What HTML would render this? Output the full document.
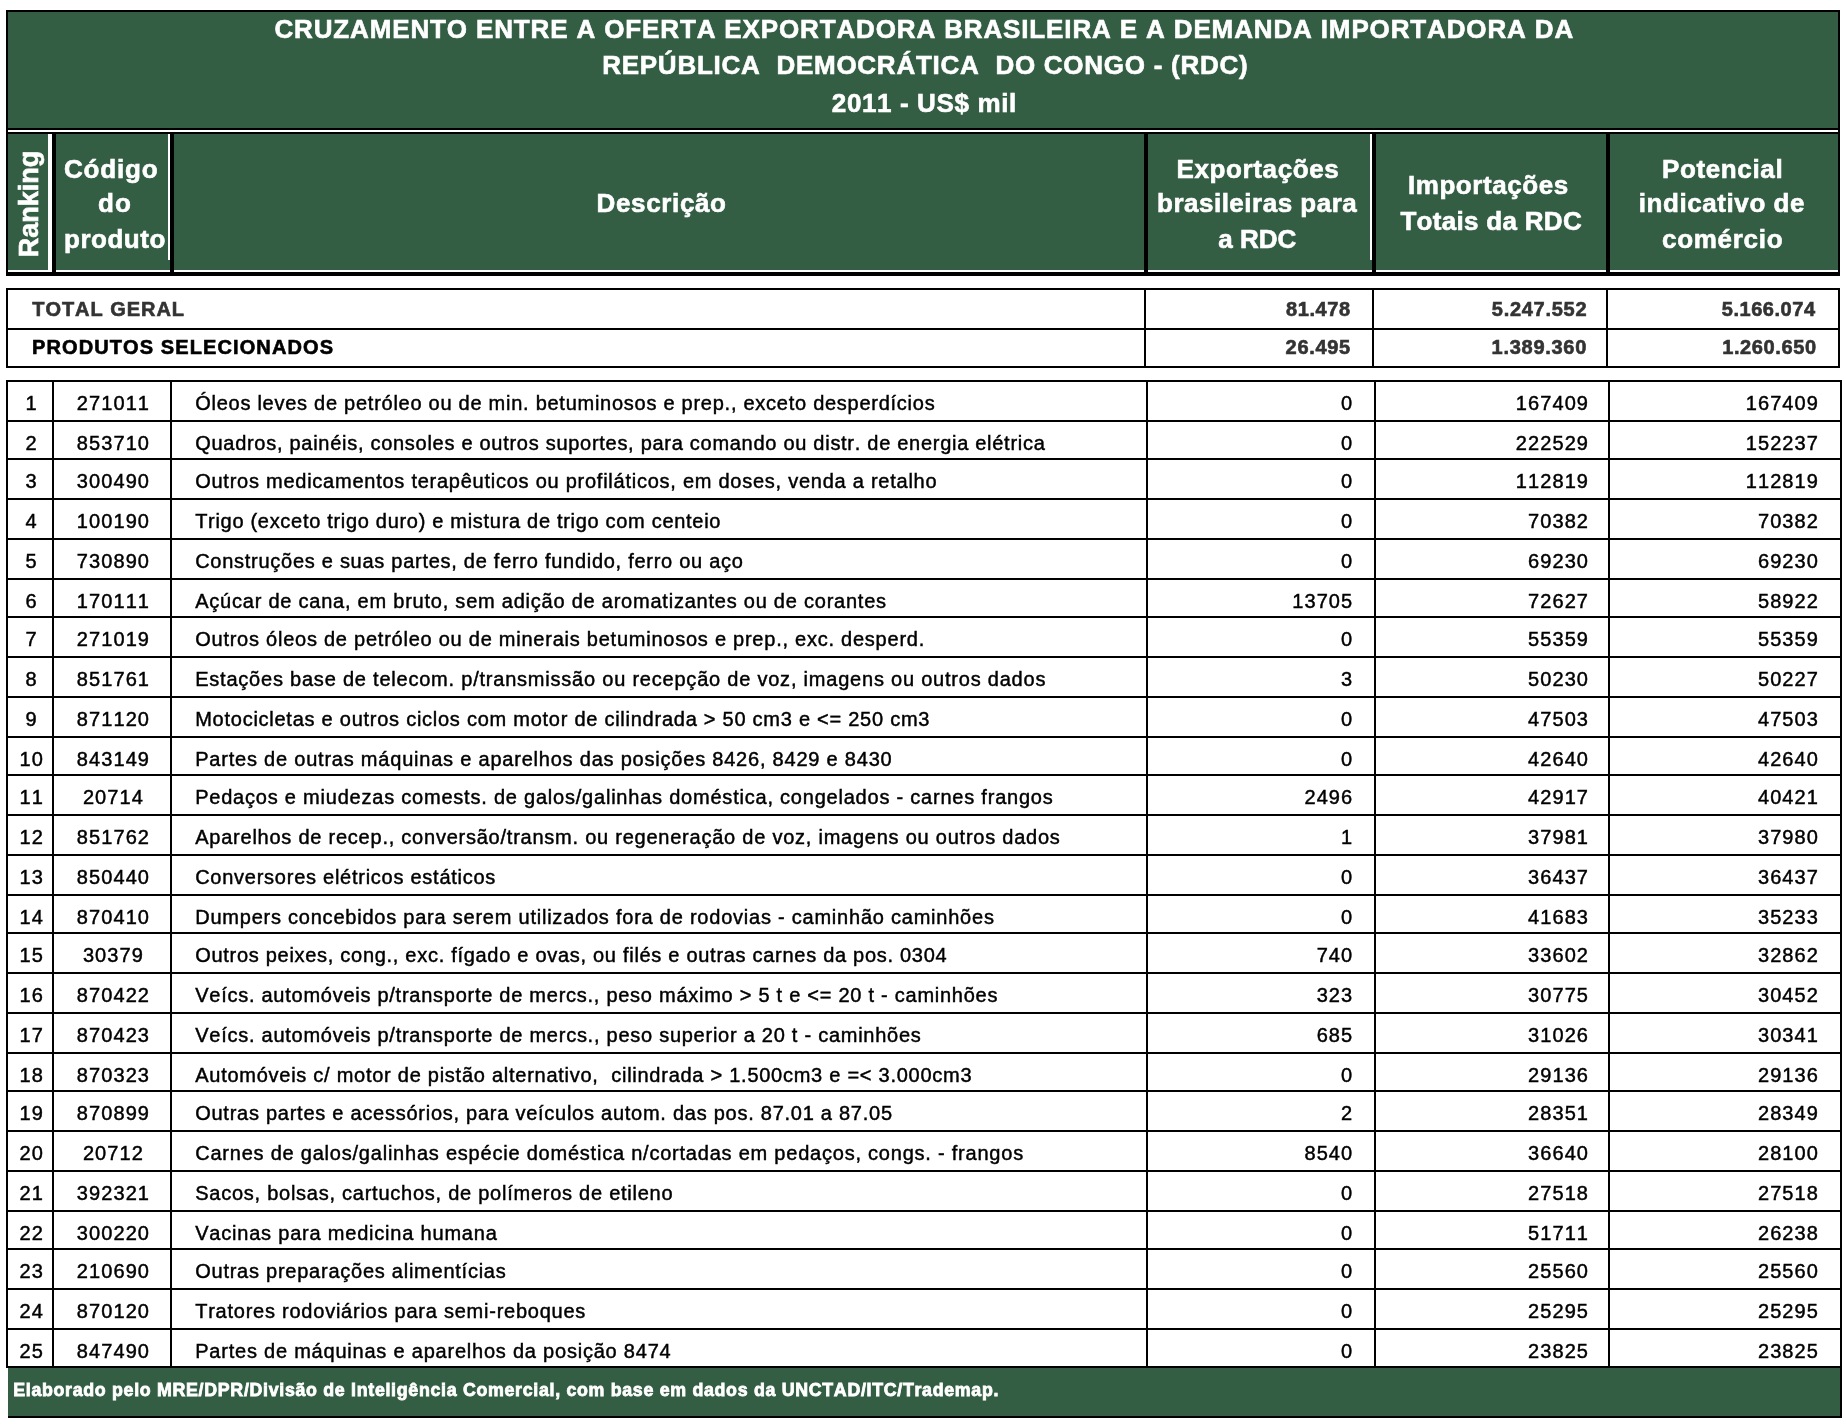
<!DOCTYPE html>
<html><head><meta charset="utf-8"><title>Cruzamento Brasil - RDC</title>
<style>
html,body{margin:0;padding:0;background:#fff;}
body{width:1846px;height:1424px;position:relative;overflow:hidden;font-family:"Liberation Sans",sans-serif;}
#page{position:absolute;left:0;top:0;width:1846px;height:1424px;will-change:transform;}
.r{position:absolute;}
.t{position:absolute;white-space:pre;font-kerning:none;-webkit-text-stroke:0.45px currentColor;}
.b{font-weight:bold;-webkit-text-stroke:0.62px currentColor;}
</style></head><body><div id="page">
<div class="r" style="left:6px;top:10px;width:1834px;height:266px;background:#000"></div>
<div class="r" style="left:8px;top:12px;width:1830px;height:116px;background:#345E43"></div>
<div class="r" style="left:8px;top:130px;width:1830px;height:2px;background:#fff"></div>
<div class="r" style="left:8px;top:134px;width:40px;height:136px;background:#345E43"></div>
<div class="r" style="left:56px;top:134px;width:112px;height:136px;background:#345E43"></div>
<div class="r" style="left:174px;top:134px;width:970px;height:136px;background:#345E43"></div>
<div class="r" style="left:1148px;top:134px;width:222px;height:136px;background:#345E43"></div>
<div class="r" style="left:1376px;top:134px;width:230px;height:136px;background:#345E43"></div>
<div class="r" style="left:1610px;top:134px;width:228px;height:136px;background:#345E43"></div>
<div class="r" style="left:8px;top:270px;width:44px;height:2px;background:#fff"></div>
<div class="r" style="left:56px;top:270px;width:114px;height:2px;background:#fff"></div>
<div class="r" style="left:174px;top:270px;width:970px;height:2px;background:#fff"></div>
<div class="r" style="left:1148px;top:270px;width:224px;height:2px;background:#fff"></div>
<div class="r" style="left:1376px;top:270px;width:230px;height:2px;background:#fff"></div>
<div class="r" style="left:1610px;top:270px;width:228px;height:2px;background:#fff"></div>
<div class="r" style="left:48px;top:134px;width:4px;height:138px;background:#fff"></div>
<div class="r" style="left:168px;top:134px;width:2px;height:126px;background:#fff"></div>
<div class="r" style="left:168px;top:260px;width:2px;height:10px;background:#345E43"></div>
<div class="r" style="left:1370px;top:134px;width:2px;height:126px;background:#fff"></div>
<div class="r" style="left:1370px;top:260px;width:2px;height:10px;background:#345E43"></div>
<div class="t b" style="left:274.41px;top:4.20px;height:50px;line-height:50px;font-size:26px;letter-spacing:0.862px;color:#fff;">CRUZAMENTO ENTRE A OFERTA EXPORTADORA BRASILEIRA E A DEMANDA IMPORTADORA DA</div>
<div class="t b" style="left:602.21px;top:40.20px;height:50px;line-height:50px;font-size:26px;letter-spacing:0.736px;color:#fff;">REPÚBLICA  DEMOCRÁTICA  DO CONGO - (RDC)</div>
<div class="t b" style="left:831.81px;top:78.20px;height:50px;line-height:50px;font-size:26px;letter-spacing:0.622px;color:#fff;">2011 - US$ mil</div>
<div class="t b" style="left:64.01px;top:144.20px;height:50px;line-height:50px;font-size:26px;letter-spacing:0.807px;color:#fff;">Código</div>
<div class="t b" style="left:98.01px;top:178.20px;height:50px;line-height:50px;font-size:26px;letter-spacing:1.198px;color:#fff;">do</div>
<div class="t b" style="left:64.11px;top:214.20px;height:50px;line-height:50px;font-size:26px;letter-spacing:0.496px;color:#fff;">produto</div>
<div class="t b" style="left:596.61px;top:178.20px;height:50px;line-height:50px;font-size:26px;letter-spacing:0.633px;color:#fff;">Descrição</div>
<div class="t b" style="left:1176.51px;top:144.20px;height:50px;line-height:50px;font-size:26px;letter-spacing:0.618px;color:#fff;">Exportações</div>
<div class="t b" style="left:1157.01px;top:178.20px;height:50px;line-height:50px;font-size:26px;letter-spacing:0.501px;color:#fff;">brasileiras para</div>
<div class="t b" style="left:1218.31px;top:214.20px;height:50px;line-height:50px;font-size:26px;letter-spacing:-0.014px;color:#fff;">a RDC</div>
<div class="t b" style="left:1407.91px;top:160.20px;height:50px;line-height:50px;font-size:26px;letter-spacing:0.564px;color:#fff;">Importações</div>
<div class="t b" style="left:1400.41px;top:196.20px;height:50px;line-height:50px;font-size:26px;letter-spacing:0.298px;color:#fff;">Totais da RDC</div>
<div class="t b" style="left:1662.01px;top:144.20px;height:50px;line-height:50px;font-size:26px;letter-spacing:0.627px;color:#fff;">Potencial</div>
<div class="t b" style="left:1638.81px;top:178.20px;height:50px;line-height:50px;font-size:26px;letter-spacing:0.568px;color:#fff;">indicativo de</div>
<div class="t b" style="left:1662.01px;top:214.20px;height:50px;line-height:50px;font-size:26px;letter-spacing:0.708px;color:#fff;">comércio</div>
<div class="t b" id="rank" style="left:0;top:0;width:200px;height:40px;line-height:40px;font-size:27.5px;color:#fff;transform-origin:0 0;transform:translate(9.2px,257.3px) rotate(-90deg) scaleX(0.982);">Ranking</div>
<div class="r" style="left:6px;top:288px;width:1834px;height:80px;background:#000"></div>
<div class="r" style="left:8px;top:290px;width:1136px;height:38px;background:#fff"></div>
<div class="r" style="left:8px;top:330px;width:1136px;height:36px;background:#fff"></div>
<div class="r" style="left:1146px;top:290px;width:226px;height:38px;background:#fff"></div>
<div class="r" style="left:1146px;top:330px;width:226px;height:36px;background:#fff"></div>
<div class="r" style="left:1374px;top:290px;width:232px;height:38px;background:#fff"></div>
<div class="r" style="left:1374px;top:330px;width:232px;height:36px;background:#fff"></div>
<div class="r" style="left:1608px;top:290px;width:230px;height:38px;background:#fff"></div>
<div class="r" style="left:1608px;top:330px;width:230px;height:36px;background:#fff"></div>
<div class="t b" style="left:32.21px;top:288.20px;height:42px;line-height:42px;font-size:20px;letter-spacing:0.959px;color:#333;">TOTAL GERAL</div>
<div class="t b" style="left:32.01px;top:326.20px;height:42px;line-height:42px;font-size:20px;letter-spacing:1.105px;color:#000;">PRODUTOS SELECIONADOS</div>
<div class="t b" style="left:1286.11px;top:288.20px;height:42px;line-height:42px;font-size:20px;letter-spacing:0.566px;color:#333;">81.478</div>
<div class="t b" style="left:1285.61px;top:326.20px;height:42px;line-height:42px;font-size:20px;letter-spacing:0.666px;color:#333;">26.495</div>
<div class="t b" style="left:1491.81px;top:288.20px;height:42px;line-height:42px;font-size:20px;letter-spacing:0.716px;color:#333;">5.247.552</div>
<div class="t b" style="left:1491.61px;top:326.20px;height:42px;line-height:42px;font-size:20px;letter-spacing:0.716px;color:#333;">1.389.360</div>
<div class="t b" style="left:1721.81px;top:288.20px;height:42px;line-height:42px;font-size:20px;letter-spacing:0.529px;color:#333;">5.166.074</div>
<div class="t b" style="left:1722.21px;top:326.20px;height:42px;line-height:42px;font-size:20px;letter-spacing:0.604px;color:#333;">1.260.650</div>
<div class="r" style="left:6px;top:380px;width:1836px;height:988px;background:#000"></div>
<div class="r" style="left:8px;top:382px;width:44px;height:38px;background:#fff"></div>
<div class="r" style="left:54px;top:382px;width:116px;height:38px;background:#fff"></div>
<div class="r" style="left:172px;top:382px;width:974px;height:38px;background:#fff"></div>
<div class="r" style="left:1148px;top:382px;width:226px;height:38px;background:#fff"></div>
<div class="r" style="left:1376px;top:382px;width:232px;height:38px;background:#fff"></div>
<div class="r" style="left:1610px;top:382px;width:230px;height:38px;background:#fff"></div>
<div class="t" style="left:25.54px;top:382.20px;height:42px;line-height:42px;font-size:20px;letter-spacing:1.080px;color:#000;">1</div>
<div class="t" style="left:76.83px;top:382.20px;height:42px;line-height:42px;font-size:20px;letter-spacing:1.080px;color:#000;">271011</div>
<div class="t" style="left:195.20px;top:382.20px;height:42px;line-height:42px;font-size:20px;letter-spacing:0.738px;color:#000;">Óleos leves de petróleo ou de min. betuminosos e prep., exceto desperdícios</div>
<div class="t" style="left:1341.08px;top:382.20px;height:42px;line-height:42px;font-size:20px;letter-spacing:1.080px;color:#000;">0</div>
<div class="t" style="left:1515.86px;top:382.20px;height:42px;line-height:42px;font-size:20px;letter-spacing:1.080px;color:#000;">167409</div>
<div class="t" style="left:1745.76px;top:382.20px;height:42px;line-height:42px;font-size:20px;letter-spacing:1.080px;color:#000;">167409</div>
<div class="r" style="left:8px;top:422px;width:44px;height:36px;background:#fff"></div>
<div class="r" style="left:54px;top:422px;width:116px;height:36px;background:#fff"></div>
<div class="r" style="left:172px;top:422px;width:974px;height:36px;background:#fff"></div>
<div class="r" style="left:1148px;top:422px;width:226px;height:36px;background:#fff"></div>
<div class="r" style="left:1376px;top:422px;width:232px;height:36px;background:#fff"></div>
<div class="r" style="left:1610px;top:422px;width:230px;height:36px;background:#fff"></div>
<div class="t" style="left:25.54px;top:422.20px;height:42px;line-height:42px;font-size:20px;letter-spacing:1.080px;color:#000;">2</div>
<div class="t" style="left:76.83px;top:422.20px;height:42px;line-height:42px;font-size:20px;letter-spacing:1.080px;color:#000;">853710</div>
<div class="t" style="left:195.20px;top:422.20px;height:42px;line-height:42px;font-size:20px;letter-spacing:0.718px;color:#000;">Quadros, painéis, consoles e outros suportes, para comando ou distr. de energia elétrica</div>
<div class="t" style="left:1341.08px;top:422.20px;height:42px;line-height:42px;font-size:20px;letter-spacing:1.080px;color:#000;">0</div>
<div class="t" style="left:1515.86px;top:422.20px;height:42px;line-height:42px;font-size:20px;letter-spacing:1.080px;color:#000;">222529</div>
<div class="t" style="left:1745.76px;top:422.20px;height:42px;line-height:42px;font-size:20px;letter-spacing:1.080px;color:#000;">152237</div>
<div class="r" style="left:8px;top:460px;width:44px;height:38px;background:#fff"></div>
<div class="r" style="left:54px;top:460px;width:116px;height:38px;background:#fff"></div>
<div class="r" style="left:172px;top:460px;width:974px;height:38px;background:#fff"></div>
<div class="r" style="left:1148px;top:460px;width:226px;height:38px;background:#fff"></div>
<div class="r" style="left:1376px;top:460px;width:232px;height:38px;background:#fff"></div>
<div class="r" style="left:1610px;top:460px;width:230px;height:38px;background:#fff"></div>
<div class="t" style="left:25.54px;top:460.20px;height:42px;line-height:42px;font-size:20px;letter-spacing:1.080px;color:#000;">3</div>
<div class="t" style="left:76.83px;top:460.20px;height:42px;line-height:42px;font-size:20px;letter-spacing:1.080px;color:#000;">300490</div>
<div class="t" style="left:195.20px;top:460.20px;height:42px;line-height:42px;font-size:20px;letter-spacing:0.750px;color:#000;">Outros medicamentos terapêuticos ou profiláticos, em doses, venda a retalho</div>
<div class="t" style="left:1341.08px;top:460.20px;height:42px;line-height:42px;font-size:20px;letter-spacing:1.080px;color:#000;">0</div>
<div class="t" style="left:1515.86px;top:460.20px;height:42px;line-height:42px;font-size:20px;letter-spacing:1.080px;color:#000;">112819</div>
<div class="t" style="left:1745.76px;top:460.20px;height:42px;line-height:42px;font-size:20px;letter-spacing:1.080px;color:#000;">112819</div>
<div class="r" style="left:8px;top:500px;width:44px;height:38px;background:#fff"></div>
<div class="r" style="left:54px;top:500px;width:116px;height:38px;background:#fff"></div>
<div class="r" style="left:172px;top:500px;width:974px;height:38px;background:#fff"></div>
<div class="r" style="left:1148px;top:500px;width:226px;height:38px;background:#fff"></div>
<div class="r" style="left:1376px;top:500px;width:232px;height:38px;background:#fff"></div>
<div class="r" style="left:1610px;top:500px;width:230px;height:38px;background:#fff"></div>
<div class="t" style="left:25.54px;top:500.20px;height:42px;line-height:42px;font-size:20px;letter-spacing:1.080px;color:#000;">4</div>
<div class="t" style="left:76.83px;top:500.20px;height:42px;line-height:42px;font-size:20px;letter-spacing:1.080px;color:#000;">100190</div>
<div class="t" style="left:195.20px;top:500.20px;height:42px;line-height:42px;font-size:20px;letter-spacing:0.697px;color:#000;">Trigo (exceto trigo duro) e mistura de trigo com centeio</div>
<div class="t" style="left:1341.08px;top:500.20px;height:42px;line-height:42px;font-size:20px;letter-spacing:1.080px;color:#000;">0</div>
<div class="t" style="left:1528.06px;top:500.20px;height:42px;line-height:42px;font-size:20px;letter-spacing:1.080px;color:#000;">70382</div>
<div class="t" style="left:1757.96px;top:500.20px;height:42px;line-height:42px;font-size:20px;letter-spacing:1.080px;color:#000;">70382</div>
<div class="r" style="left:8px;top:540px;width:44px;height:38px;background:#fff"></div>
<div class="r" style="left:54px;top:540px;width:116px;height:38px;background:#fff"></div>
<div class="r" style="left:172px;top:540px;width:974px;height:38px;background:#fff"></div>
<div class="r" style="left:1148px;top:540px;width:226px;height:38px;background:#fff"></div>
<div class="r" style="left:1376px;top:540px;width:232px;height:38px;background:#fff"></div>
<div class="r" style="left:1610px;top:540px;width:230px;height:38px;background:#fff"></div>
<div class="t" style="left:25.54px;top:540.20px;height:42px;line-height:42px;font-size:20px;letter-spacing:1.080px;color:#000;">5</div>
<div class="t" style="left:76.83px;top:540.20px;height:42px;line-height:42px;font-size:20px;letter-spacing:1.080px;color:#000;">730890</div>
<div class="t" style="left:195.20px;top:540.20px;height:42px;line-height:42px;font-size:20px;letter-spacing:0.728px;color:#000;">Construções e suas partes, de ferro fundido, ferro ou aço</div>
<div class="t" style="left:1341.08px;top:540.20px;height:42px;line-height:42px;font-size:20px;letter-spacing:1.080px;color:#000;">0</div>
<div class="t" style="left:1528.06px;top:540.20px;height:42px;line-height:42px;font-size:20px;letter-spacing:1.080px;color:#000;">69230</div>
<div class="t" style="left:1757.96px;top:540.20px;height:42px;line-height:42px;font-size:20px;letter-spacing:1.080px;color:#000;">69230</div>
<div class="r" style="left:8px;top:580px;width:44px;height:36px;background:#fff"></div>
<div class="r" style="left:54px;top:580px;width:116px;height:36px;background:#fff"></div>
<div class="r" style="left:172px;top:580px;width:974px;height:36px;background:#fff"></div>
<div class="r" style="left:1148px;top:580px;width:226px;height:36px;background:#fff"></div>
<div class="r" style="left:1376px;top:580px;width:232px;height:36px;background:#fff"></div>
<div class="r" style="left:1610px;top:580px;width:230px;height:36px;background:#fff"></div>
<div class="t" style="left:25.54px;top:580.20px;height:42px;line-height:42px;font-size:20px;letter-spacing:1.080px;color:#000;">6</div>
<div class="t" style="left:76.83px;top:580.20px;height:42px;line-height:42px;font-size:20px;letter-spacing:1.080px;color:#000;">170111</div>
<div class="t" style="left:195.20px;top:580.20px;height:42px;line-height:42px;font-size:20px;letter-spacing:0.771px;color:#000;">Açúcar de cana, em bruto, sem adição de aromatizantes ou de corantes</div>
<div class="t" style="left:1292.26px;top:580.20px;height:42px;line-height:42px;font-size:20px;letter-spacing:1.080px;color:#000;">13705</div>
<div class="t" style="left:1528.06px;top:580.20px;height:42px;line-height:42px;font-size:20px;letter-spacing:1.080px;color:#000;">72627</div>
<div class="t" style="left:1757.96px;top:580.20px;height:42px;line-height:42px;font-size:20px;letter-spacing:1.080px;color:#000;">58922</div>
<div class="r" style="left:8px;top:618px;width:44px;height:38px;background:#fff"></div>
<div class="r" style="left:54px;top:618px;width:116px;height:38px;background:#fff"></div>
<div class="r" style="left:172px;top:618px;width:974px;height:38px;background:#fff"></div>
<div class="r" style="left:1148px;top:618px;width:226px;height:38px;background:#fff"></div>
<div class="r" style="left:1376px;top:618px;width:232px;height:38px;background:#fff"></div>
<div class="r" style="left:1610px;top:618px;width:230px;height:38px;background:#fff"></div>
<div class="t" style="left:25.54px;top:618.20px;height:42px;line-height:42px;font-size:20px;letter-spacing:1.080px;color:#000;">7</div>
<div class="t" style="left:76.83px;top:618.20px;height:42px;line-height:42px;font-size:20px;letter-spacing:1.080px;color:#000;">271019</div>
<div class="t" style="left:195.20px;top:618.20px;height:42px;line-height:42px;font-size:20px;letter-spacing:0.758px;color:#000;">Outros óleos de petróleo ou de minerais betuminosos e prep., exc. desperd.</div>
<div class="t" style="left:1341.08px;top:618.20px;height:42px;line-height:42px;font-size:20px;letter-spacing:1.080px;color:#000;">0</div>
<div class="t" style="left:1528.06px;top:618.20px;height:42px;line-height:42px;font-size:20px;letter-spacing:1.080px;color:#000;">55359</div>
<div class="t" style="left:1757.96px;top:618.20px;height:42px;line-height:42px;font-size:20px;letter-spacing:1.080px;color:#000;">55359</div>
<div class="r" style="left:8px;top:658px;width:44px;height:38px;background:#fff"></div>
<div class="r" style="left:54px;top:658px;width:116px;height:38px;background:#fff"></div>
<div class="r" style="left:172px;top:658px;width:974px;height:38px;background:#fff"></div>
<div class="r" style="left:1148px;top:658px;width:226px;height:38px;background:#fff"></div>
<div class="r" style="left:1376px;top:658px;width:232px;height:38px;background:#fff"></div>
<div class="r" style="left:1610px;top:658px;width:230px;height:38px;background:#fff"></div>
<div class="t" style="left:25.54px;top:658.20px;height:42px;line-height:42px;font-size:20px;letter-spacing:1.080px;color:#000;">8</div>
<div class="t" style="left:76.83px;top:658.20px;height:42px;line-height:42px;font-size:20px;letter-spacing:1.080px;color:#000;">851761</div>
<div class="t" style="left:195.20px;top:658.20px;height:42px;line-height:42px;font-size:20px;letter-spacing:0.783px;color:#000;">Estações base de telecom. p/transmissão ou recepção de voz, imagens ou outros dados</div>
<div class="t" style="left:1341.08px;top:658.20px;height:42px;line-height:42px;font-size:20px;letter-spacing:1.080px;color:#000;">3</div>
<div class="t" style="left:1528.06px;top:658.20px;height:42px;line-height:42px;font-size:20px;letter-spacing:1.080px;color:#000;">50230</div>
<div class="t" style="left:1757.96px;top:658.20px;height:42px;line-height:42px;font-size:20px;letter-spacing:1.080px;color:#000;">50227</div>
<div class="r" style="left:8px;top:698px;width:44px;height:38px;background:#fff"></div>
<div class="r" style="left:54px;top:698px;width:116px;height:38px;background:#fff"></div>
<div class="r" style="left:172px;top:698px;width:974px;height:38px;background:#fff"></div>
<div class="r" style="left:1148px;top:698px;width:226px;height:38px;background:#fff"></div>
<div class="r" style="left:1376px;top:698px;width:232px;height:38px;background:#fff"></div>
<div class="r" style="left:1610px;top:698px;width:230px;height:38px;background:#fff"></div>
<div class="t" style="left:25.54px;top:698.20px;height:42px;line-height:42px;font-size:20px;letter-spacing:1.080px;color:#000;">9</div>
<div class="t" style="left:76.83px;top:698.20px;height:42px;line-height:42px;font-size:20px;letter-spacing:1.080px;color:#000;">871120</div>
<div class="t" style="left:195.20px;top:698.20px;height:42px;line-height:42px;font-size:20px;letter-spacing:0.746px;color:#000;">Motocicletas e outros ciclos com motor de cilindrada &gt; 50 cm3 e &lt;= 250 cm3</div>
<div class="t" style="left:1341.08px;top:698.20px;height:42px;line-height:42px;font-size:20px;letter-spacing:1.080px;color:#000;">0</div>
<div class="t" style="left:1528.06px;top:698.20px;height:42px;line-height:42px;font-size:20px;letter-spacing:1.080px;color:#000;">47503</div>
<div class="t" style="left:1757.96px;top:698.20px;height:42px;line-height:42px;font-size:20px;letter-spacing:1.080px;color:#000;">47503</div>
<div class="r" style="left:8px;top:738px;width:44px;height:36px;background:#fff"></div>
<div class="r" style="left:54px;top:738px;width:116px;height:36px;background:#fff"></div>
<div class="r" style="left:172px;top:738px;width:974px;height:36px;background:#fff"></div>
<div class="r" style="left:1148px;top:738px;width:226px;height:36px;background:#fff"></div>
<div class="r" style="left:1376px;top:738px;width:232px;height:36px;background:#fff"></div>
<div class="r" style="left:1610px;top:738px;width:230px;height:36px;background:#fff"></div>
<div class="t" style="left:19.44px;top:738.20px;height:42px;line-height:42px;font-size:20px;letter-spacing:1.080px;color:#000;">10</div>
<div class="t" style="left:76.83px;top:738.20px;height:42px;line-height:42px;font-size:20px;letter-spacing:1.080px;color:#000;">843149</div>
<div class="t" style="left:195.20px;top:738.20px;height:42px;line-height:42px;font-size:20px;letter-spacing:0.787px;color:#000;">Partes de outras máquinas e aparelhos das posições 8426, 8429 e 8430</div>
<div class="t" style="left:1341.08px;top:738.20px;height:42px;line-height:42px;font-size:20px;letter-spacing:1.080px;color:#000;">0</div>
<div class="t" style="left:1528.06px;top:738.20px;height:42px;line-height:42px;font-size:20px;letter-spacing:1.080px;color:#000;">42640</div>
<div class="t" style="left:1757.96px;top:738.20px;height:42px;line-height:42px;font-size:20px;letter-spacing:1.080px;color:#000;">42640</div>
<div class="r" style="left:8px;top:776px;width:44px;height:38px;background:#fff"></div>
<div class="r" style="left:54px;top:776px;width:116px;height:38px;background:#fff"></div>
<div class="r" style="left:172px;top:776px;width:974px;height:38px;background:#fff"></div>
<div class="r" style="left:1148px;top:776px;width:226px;height:38px;background:#fff"></div>
<div class="r" style="left:1376px;top:776px;width:232px;height:38px;background:#fff"></div>
<div class="r" style="left:1610px;top:776px;width:230px;height:38px;background:#fff"></div>
<div class="t" style="left:19.44px;top:776.20px;height:42px;line-height:42px;font-size:20px;letter-spacing:1.080px;color:#000;">11</div>
<div class="t" style="left:82.93px;top:776.20px;height:42px;line-height:42px;font-size:20px;letter-spacing:1.080px;color:#000;">20714</div>
<div class="t" style="left:195.20px;top:776.20px;height:42px;line-height:42px;font-size:20px;letter-spacing:0.782px;color:#000;">Pedaços e miudezas comests. de galos/galinhas doméstica, congelados - carnes frangos</div>
<div class="t" style="left:1304.47px;top:776.20px;height:42px;line-height:42px;font-size:20px;letter-spacing:1.080px;color:#000;">2496</div>
<div class="t" style="left:1528.06px;top:776.20px;height:42px;line-height:42px;font-size:20px;letter-spacing:1.080px;color:#000;">42917</div>
<div class="t" style="left:1757.96px;top:776.20px;height:42px;line-height:42px;font-size:20px;letter-spacing:1.080px;color:#000;">40421</div>
<div class="r" style="left:8px;top:816px;width:44px;height:38px;background:#fff"></div>
<div class="r" style="left:54px;top:816px;width:116px;height:38px;background:#fff"></div>
<div class="r" style="left:172px;top:816px;width:974px;height:38px;background:#fff"></div>
<div class="r" style="left:1148px;top:816px;width:226px;height:38px;background:#fff"></div>
<div class="r" style="left:1376px;top:816px;width:232px;height:38px;background:#fff"></div>
<div class="r" style="left:1610px;top:816px;width:230px;height:38px;background:#fff"></div>
<div class="t" style="left:19.44px;top:816.20px;height:42px;line-height:42px;font-size:20px;letter-spacing:1.080px;color:#000;">12</div>
<div class="t" style="left:76.83px;top:816.20px;height:42px;line-height:42px;font-size:20px;letter-spacing:1.080px;color:#000;">851762</div>
<div class="t" style="left:195.20px;top:816.20px;height:42px;line-height:42px;font-size:20px;letter-spacing:0.764px;color:#000;">Aparelhos de recep., conversão/transm. ou regeneração de voz, imagens ou outros dados</div>
<div class="t" style="left:1341.08px;top:816.20px;height:42px;line-height:42px;font-size:20px;letter-spacing:1.080px;color:#000;">1</div>
<div class="t" style="left:1528.06px;top:816.20px;height:42px;line-height:42px;font-size:20px;letter-spacing:1.080px;color:#000;">37981</div>
<div class="t" style="left:1757.96px;top:816.20px;height:42px;line-height:42px;font-size:20px;letter-spacing:1.080px;color:#000;">37980</div>
<div class="r" style="left:8px;top:856px;width:44px;height:38px;background:#fff"></div>
<div class="r" style="left:54px;top:856px;width:116px;height:38px;background:#fff"></div>
<div class="r" style="left:172px;top:856px;width:974px;height:38px;background:#fff"></div>
<div class="r" style="left:1148px;top:856px;width:226px;height:38px;background:#fff"></div>
<div class="r" style="left:1376px;top:856px;width:232px;height:38px;background:#fff"></div>
<div class="r" style="left:1610px;top:856px;width:230px;height:38px;background:#fff"></div>
<div class="t" style="left:19.44px;top:856.20px;height:42px;line-height:42px;font-size:20px;letter-spacing:1.080px;color:#000;">13</div>
<div class="t" style="left:76.83px;top:856.20px;height:42px;line-height:42px;font-size:20px;letter-spacing:1.080px;color:#000;">850440</div>
<div class="t" style="left:195.20px;top:856.20px;height:42px;line-height:42px;font-size:20px;letter-spacing:0.743px;color:#000;">Conversores elétricos estáticos</div>
<div class="t" style="left:1341.08px;top:856.20px;height:42px;line-height:42px;font-size:20px;letter-spacing:1.080px;color:#000;">0</div>
<div class="t" style="left:1528.06px;top:856.20px;height:42px;line-height:42px;font-size:20px;letter-spacing:1.080px;color:#000;">36437</div>
<div class="t" style="left:1757.96px;top:856.20px;height:42px;line-height:42px;font-size:20px;letter-spacing:1.080px;color:#000;">36437</div>
<div class="r" style="left:8px;top:896px;width:44px;height:36px;background:#fff"></div>
<div class="r" style="left:54px;top:896px;width:116px;height:36px;background:#fff"></div>
<div class="r" style="left:172px;top:896px;width:974px;height:36px;background:#fff"></div>
<div class="r" style="left:1148px;top:896px;width:226px;height:36px;background:#fff"></div>
<div class="r" style="left:1376px;top:896px;width:232px;height:36px;background:#fff"></div>
<div class="r" style="left:1610px;top:896px;width:230px;height:36px;background:#fff"></div>
<div class="t" style="left:19.44px;top:896.20px;height:42px;line-height:42px;font-size:20px;letter-spacing:1.080px;color:#000;">14</div>
<div class="t" style="left:76.83px;top:896.20px;height:42px;line-height:42px;font-size:20px;letter-spacing:1.080px;color:#000;">870410</div>
<div class="t" style="left:195.20px;top:896.20px;height:42px;line-height:42px;font-size:20px;letter-spacing:0.772px;color:#000;">Dumpers concebidos para serem utilizados fora de rodovias - caminhão caminhões</div>
<div class="t" style="left:1341.08px;top:896.20px;height:42px;line-height:42px;font-size:20px;letter-spacing:1.080px;color:#000;">0</div>
<div class="t" style="left:1528.06px;top:896.20px;height:42px;line-height:42px;font-size:20px;letter-spacing:1.080px;color:#000;">41683</div>
<div class="t" style="left:1757.96px;top:896.20px;height:42px;line-height:42px;font-size:20px;letter-spacing:1.080px;color:#000;">35233</div>
<div class="r" style="left:8px;top:934px;width:44px;height:38px;background:#fff"></div>
<div class="r" style="left:54px;top:934px;width:116px;height:38px;background:#fff"></div>
<div class="r" style="left:172px;top:934px;width:974px;height:38px;background:#fff"></div>
<div class="r" style="left:1148px;top:934px;width:226px;height:38px;background:#fff"></div>
<div class="r" style="left:1376px;top:934px;width:232px;height:38px;background:#fff"></div>
<div class="r" style="left:1610px;top:934px;width:230px;height:38px;background:#fff"></div>
<div class="t" style="left:19.44px;top:934.20px;height:42px;line-height:42px;font-size:20px;letter-spacing:1.080px;color:#000;">15</div>
<div class="t" style="left:82.93px;top:934.20px;height:42px;line-height:42px;font-size:20px;letter-spacing:1.080px;color:#000;">30379</div>
<div class="t" style="left:195.20px;top:934.20px;height:42px;line-height:42px;font-size:20px;letter-spacing:0.711px;color:#000;">Outros peixes, cong., exc. fígado e ovas, ou filés e outras carnes da pos. 0304</div>
<div class="t" style="left:1316.67px;top:934.20px;height:42px;line-height:42px;font-size:20px;letter-spacing:1.080px;color:#000;">740</div>
<div class="t" style="left:1528.06px;top:934.20px;height:42px;line-height:42px;font-size:20px;letter-spacing:1.080px;color:#000;">33602</div>
<div class="t" style="left:1757.96px;top:934.20px;height:42px;line-height:42px;font-size:20px;letter-spacing:1.080px;color:#000;">32862</div>
<div class="r" style="left:8px;top:974px;width:44px;height:38px;background:#fff"></div>
<div class="r" style="left:54px;top:974px;width:116px;height:38px;background:#fff"></div>
<div class="r" style="left:172px;top:974px;width:974px;height:38px;background:#fff"></div>
<div class="r" style="left:1148px;top:974px;width:226px;height:38px;background:#fff"></div>
<div class="r" style="left:1376px;top:974px;width:232px;height:38px;background:#fff"></div>
<div class="r" style="left:1610px;top:974px;width:230px;height:38px;background:#fff"></div>
<div class="t" style="left:19.44px;top:974.20px;height:42px;line-height:42px;font-size:20px;letter-spacing:1.080px;color:#000;">16</div>
<div class="t" style="left:76.83px;top:974.20px;height:42px;line-height:42px;font-size:20px;letter-spacing:1.080px;color:#000;">870422</div>
<div class="t" style="left:195.20px;top:974.20px;height:42px;line-height:42px;font-size:20px;letter-spacing:0.739px;color:#000;">Veícs. automóveis p/transporte de mercs., peso máximo &gt; 5 t e &lt;= 20 t - caminhões</div>
<div class="t" style="left:1316.67px;top:974.20px;height:42px;line-height:42px;font-size:20px;letter-spacing:1.080px;color:#000;">323</div>
<div class="t" style="left:1528.06px;top:974.20px;height:42px;line-height:42px;font-size:20px;letter-spacing:1.080px;color:#000;">30775</div>
<div class="t" style="left:1757.96px;top:974.20px;height:42px;line-height:42px;font-size:20px;letter-spacing:1.080px;color:#000;">30452</div>
<div class="r" style="left:8px;top:1014px;width:44px;height:38px;background:#fff"></div>
<div class="r" style="left:54px;top:1014px;width:116px;height:38px;background:#fff"></div>
<div class="r" style="left:172px;top:1014px;width:974px;height:38px;background:#fff"></div>
<div class="r" style="left:1148px;top:1014px;width:226px;height:38px;background:#fff"></div>
<div class="r" style="left:1376px;top:1014px;width:232px;height:38px;background:#fff"></div>
<div class="r" style="left:1610px;top:1014px;width:230px;height:38px;background:#fff"></div>
<div class="t" style="left:19.44px;top:1014.20px;height:42px;line-height:42px;font-size:20px;letter-spacing:1.080px;color:#000;">17</div>
<div class="t" style="left:76.83px;top:1014.20px;height:42px;line-height:42px;font-size:20px;letter-spacing:1.080px;color:#000;">870423</div>
<div class="t" style="left:195.20px;top:1014.20px;height:42px;line-height:42px;font-size:20px;letter-spacing:0.742px;color:#000;">Veícs. automóveis p/transporte de mercs., peso superior a 20 t - caminhões</div>
<div class="t" style="left:1316.67px;top:1014.20px;height:42px;line-height:42px;font-size:20px;letter-spacing:1.080px;color:#000;">685</div>
<div class="t" style="left:1528.06px;top:1014.20px;height:42px;line-height:42px;font-size:20px;letter-spacing:1.080px;color:#000;">31026</div>
<div class="t" style="left:1757.96px;top:1014.20px;height:42px;line-height:42px;font-size:20px;letter-spacing:1.080px;color:#000;">30341</div>
<div class="r" style="left:8px;top:1054px;width:44px;height:36px;background:#fff"></div>
<div class="r" style="left:54px;top:1054px;width:116px;height:36px;background:#fff"></div>
<div class="r" style="left:172px;top:1054px;width:974px;height:36px;background:#fff"></div>
<div class="r" style="left:1148px;top:1054px;width:226px;height:36px;background:#fff"></div>
<div class="r" style="left:1376px;top:1054px;width:232px;height:36px;background:#fff"></div>
<div class="r" style="left:1610px;top:1054px;width:230px;height:36px;background:#fff"></div>
<div class="t" style="left:19.44px;top:1054.20px;height:42px;line-height:42px;font-size:20px;letter-spacing:1.080px;color:#000;">18</div>
<div class="t" style="left:76.83px;top:1054.20px;height:42px;line-height:42px;font-size:20px;letter-spacing:1.080px;color:#000;">870323</div>
<div class="t" style="left:195.20px;top:1054.20px;height:42px;line-height:42px;font-size:20px;letter-spacing:0.739px;color:#000;">Automóveis c/ motor de pistão alternativo,  cilindrada &gt; 1.500cm3 e =&lt; 3.000cm3</div>
<div class="t" style="left:1341.08px;top:1054.20px;height:42px;line-height:42px;font-size:20px;letter-spacing:1.080px;color:#000;">0</div>
<div class="t" style="left:1528.06px;top:1054.20px;height:42px;line-height:42px;font-size:20px;letter-spacing:1.080px;color:#000;">29136</div>
<div class="t" style="left:1757.96px;top:1054.20px;height:42px;line-height:42px;font-size:20px;letter-spacing:1.080px;color:#000;">29136</div>
<div class="r" style="left:8px;top:1092px;width:44px;height:38px;background:#fff"></div>
<div class="r" style="left:54px;top:1092px;width:116px;height:38px;background:#fff"></div>
<div class="r" style="left:172px;top:1092px;width:974px;height:38px;background:#fff"></div>
<div class="r" style="left:1148px;top:1092px;width:226px;height:38px;background:#fff"></div>
<div class="r" style="left:1376px;top:1092px;width:232px;height:38px;background:#fff"></div>
<div class="r" style="left:1610px;top:1092px;width:230px;height:38px;background:#fff"></div>
<div class="t" style="left:19.44px;top:1092.20px;height:42px;line-height:42px;font-size:20px;letter-spacing:1.080px;color:#000;">19</div>
<div class="t" style="left:76.83px;top:1092.20px;height:42px;line-height:42px;font-size:20px;letter-spacing:1.080px;color:#000;">870899</div>
<div class="t" style="left:195.20px;top:1092.20px;height:42px;line-height:42px;font-size:20px;letter-spacing:0.743px;color:#000;">Outras partes e acessórios, para veículos autom. das pos. 87.01 a 87.05</div>
<div class="t" style="left:1341.08px;top:1092.20px;height:42px;line-height:42px;font-size:20px;letter-spacing:1.080px;color:#000;">2</div>
<div class="t" style="left:1528.06px;top:1092.20px;height:42px;line-height:42px;font-size:20px;letter-spacing:1.080px;color:#000;">28351</div>
<div class="t" style="left:1757.96px;top:1092.20px;height:42px;line-height:42px;font-size:20px;letter-spacing:1.080px;color:#000;">28349</div>
<div class="r" style="left:8px;top:1132px;width:44px;height:38px;background:#fff"></div>
<div class="r" style="left:54px;top:1132px;width:116px;height:38px;background:#fff"></div>
<div class="r" style="left:172px;top:1132px;width:974px;height:38px;background:#fff"></div>
<div class="r" style="left:1148px;top:1132px;width:226px;height:38px;background:#fff"></div>
<div class="r" style="left:1376px;top:1132px;width:232px;height:38px;background:#fff"></div>
<div class="r" style="left:1610px;top:1132px;width:230px;height:38px;background:#fff"></div>
<div class="t" style="left:19.44px;top:1132.20px;height:42px;line-height:42px;font-size:20px;letter-spacing:1.080px;color:#000;">20</div>
<div class="t" style="left:82.93px;top:1132.20px;height:42px;line-height:42px;font-size:20px;letter-spacing:1.080px;color:#000;">20712</div>
<div class="t" style="left:195.20px;top:1132.20px;height:42px;line-height:42px;font-size:20px;letter-spacing:0.779px;color:#000;">Carnes de galos/galinhas espécie doméstica n/cortadas em pedaços, congs. - frangos</div>
<div class="t" style="left:1304.47px;top:1132.20px;height:42px;line-height:42px;font-size:20px;letter-spacing:1.080px;color:#000;">8540</div>
<div class="t" style="left:1528.06px;top:1132.20px;height:42px;line-height:42px;font-size:20px;letter-spacing:1.080px;color:#000;">36640</div>
<div class="t" style="left:1757.96px;top:1132.20px;height:42px;line-height:42px;font-size:20px;letter-spacing:1.080px;color:#000;">28100</div>
<div class="r" style="left:8px;top:1172px;width:44px;height:38px;background:#fff"></div>
<div class="r" style="left:54px;top:1172px;width:116px;height:38px;background:#fff"></div>
<div class="r" style="left:172px;top:1172px;width:974px;height:38px;background:#fff"></div>
<div class="r" style="left:1148px;top:1172px;width:226px;height:38px;background:#fff"></div>
<div class="r" style="left:1376px;top:1172px;width:232px;height:38px;background:#fff"></div>
<div class="r" style="left:1610px;top:1172px;width:230px;height:38px;background:#fff"></div>
<div class="t" style="left:19.44px;top:1172.20px;height:42px;line-height:42px;font-size:20px;letter-spacing:1.080px;color:#000;">21</div>
<div class="t" style="left:76.83px;top:1172.20px;height:42px;line-height:42px;font-size:20px;letter-spacing:1.080px;color:#000;">392321</div>
<div class="t" style="left:195.20px;top:1172.20px;height:42px;line-height:42px;font-size:20px;letter-spacing:0.751px;color:#000;">Sacos, bolsas, cartuchos, de polímeros de etileno</div>
<div class="t" style="left:1341.08px;top:1172.20px;height:42px;line-height:42px;font-size:20px;letter-spacing:1.080px;color:#000;">0</div>
<div class="t" style="left:1528.06px;top:1172.20px;height:42px;line-height:42px;font-size:20px;letter-spacing:1.080px;color:#000;">27518</div>
<div class="t" style="left:1757.96px;top:1172.20px;height:42px;line-height:42px;font-size:20px;letter-spacing:1.080px;color:#000;">27518</div>
<div class="r" style="left:8px;top:1212px;width:44px;height:36px;background:#fff"></div>
<div class="r" style="left:54px;top:1212px;width:116px;height:36px;background:#fff"></div>
<div class="r" style="left:172px;top:1212px;width:974px;height:36px;background:#fff"></div>
<div class="r" style="left:1148px;top:1212px;width:226px;height:36px;background:#fff"></div>
<div class="r" style="left:1376px;top:1212px;width:232px;height:36px;background:#fff"></div>
<div class="r" style="left:1610px;top:1212px;width:230px;height:36px;background:#fff"></div>
<div class="t" style="left:19.44px;top:1212.20px;height:42px;line-height:42px;font-size:20px;letter-spacing:1.080px;color:#000;">22</div>
<div class="t" style="left:76.83px;top:1212.20px;height:42px;line-height:42px;font-size:20px;letter-spacing:1.080px;color:#000;">300220</div>
<div class="t" style="left:195.20px;top:1212.20px;height:42px;line-height:42px;font-size:20px;letter-spacing:0.794px;color:#000;">Vacinas para medicina humana</div>
<div class="t" style="left:1341.08px;top:1212.20px;height:42px;line-height:42px;font-size:20px;letter-spacing:1.080px;color:#000;">0</div>
<div class="t" style="left:1528.06px;top:1212.20px;height:42px;line-height:42px;font-size:20px;letter-spacing:1.080px;color:#000;">51711</div>
<div class="t" style="left:1757.96px;top:1212.20px;height:42px;line-height:42px;font-size:20px;letter-spacing:1.080px;color:#000;">26238</div>
<div class="r" style="left:8px;top:1250px;width:44px;height:38px;background:#fff"></div>
<div class="r" style="left:54px;top:1250px;width:116px;height:38px;background:#fff"></div>
<div class="r" style="left:172px;top:1250px;width:974px;height:38px;background:#fff"></div>
<div class="r" style="left:1148px;top:1250px;width:226px;height:38px;background:#fff"></div>
<div class="r" style="left:1376px;top:1250px;width:232px;height:38px;background:#fff"></div>
<div class="r" style="left:1610px;top:1250px;width:230px;height:38px;background:#fff"></div>
<div class="t" style="left:19.44px;top:1250.20px;height:42px;line-height:42px;font-size:20px;letter-spacing:1.080px;color:#000;">23</div>
<div class="t" style="left:76.83px;top:1250.20px;height:42px;line-height:42px;font-size:20px;letter-spacing:1.080px;color:#000;">210690</div>
<div class="t" style="left:195.20px;top:1250.20px;height:42px;line-height:42px;font-size:20px;letter-spacing:0.755px;color:#000;">Outras preparações alimentícias</div>
<div class="t" style="left:1341.08px;top:1250.20px;height:42px;line-height:42px;font-size:20px;letter-spacing:1.080px;color:#000;">0</div>
<div class="t" style="left:1528.06px;top:1250.20px;height:42px;line-height:42px;font-size:20px;letter-spacing:1.080px;color:#000;">25560</div>
<div class="t" style="left:1757.96px;top:1250.20px;height:42px;line-height:42px;font-size:20px;letter-spacing:1.080px;color:#000;">25560</div>
<div class="r" style="left:8px;top:1290px;width:44px;height:38px;background:#fff"></div>
<div class="r" style="left:54px;top:1290px;width:116px;height:38px;background:#fff"></div>
<div class="r" style="left:172px;top:1290px;width:974px;height:38px;background:#fff"></div>
<div class="r" style="left:1148px;top:1290px;width:226px;height:38px;background:#fff"></div>
<div class="r" style="left:1376px;top:1290px;width:232px;height:38px;background:#fff"></div>
<div class="r" style="left:1610px;top:1290px;width:230px;height:38px;background:#fff"></div>
<div class="t" style="left:19.44px;top:1290.20px;height:42px;line-height:42px;font-size:20px;letter-spacing:1.080px;color:#000;">24</div>
<div class="t" style="left:76.83px;top:1290.20px;height:42px;line-height:42px;font-size:20px;letter-spacing:1.080px;color:#000;">870120</div>
<div class="t" style="left:195.20px;top:1290.20px;height:42px;line-height:42px;font-size:20px;letter-spacing:0.761px;color:#000;">Tratores rodoviários para semi-reboques</div>
<div class="t" style="left:1341.08px;top:1290.20px;height:42px;line-height:42px;font-size:20px;letter-spacing:1.080px;color:#000;">0</div>
<div class="t" style="left:1528.06px;top:1290.20px;height:42px;line-height:42px;font-size:20px;letter-spacing:1.080px;color:#000;">25295</div>
<div class="t" style="left:1757.96px;top:1290.20px;height:42px;line-height:42px;font-size:20px;letter-spacing:1.080px;color:#000;">25295</div>
<div class="r" style="left:8px;top:1330px;width:44px;height:36px;background:#fff"></div>
<div class="r" style="left:54px;top:1330px;width:116px;height:36px;background:#fff"></div>
<div class="r" style="left:172px;top:1330px;width:974px;height:36px;background:#fff"></div>
<div class="r" style="left:1148px;top:1330px;width:226px;height:36px;background:#fff"></div>
<div class="r" style="left:1376px;top:1330px;width:232px;height:36px;background:#fff"></div>
<div class="r" style="left:1610px;top:1330px;width:230px;height:36px;background:#fff"></div>
<div class="t" style="left:19.44px;top:1330.20px;height:42px;line-height:42px;font-size:20px;letter-spacing:1.080px;color:#000;">25</div>
<div class="t" style="left:76.83px;top:1330.20px;height:42px;line-height:42px;font-size:20px;letter-spacing:1.080px;color:#000;">847490</div>
<div class="t" style="left:195.20px;top:1330.20px;height:42px;line-height:42px;font-size:20px;letter-spacing:0.782px;color:#000;">Partes de máquinas e aparelhos da posição 8474</div>
<div class="t" style="left:1341.08px;top:1330.20px;height:42px;line-height:42px;font-size:20px;letter-spacing:1.080px;color:#000;">0</div>
<div class="t" style="left:1528.06px;top:1330.20px;height:42px;line-height:42px;font-size:20px;letter-spacing:1.080px;color:#000;">23825</div>
<div class="t" style="left:1757.96px;top:1330.20px;height:42px;line-height:42px;font-size:20px;letter-spacing:1.080px;color:#000;">23825</div>
<div class="r" style="left:8px;top:1368px;width:1834px;height:50px;background:#000"></div>
<div class="r" style="left:8px;top:1368px;width:1832px;height:48px;background:#345E43"></div>
<div class="t b" style="left:13.20px;top:1370.20px;height:40px;line-height:40px;font-size:17.8px;letter-spacing:0.697px;color:#fff;-webkit-text-stroke-width:0.8px;">Elaborado pelo MRE/DPR/Divisão de Inteligência Comercial, com base em dados da UNCTAD/ITC/Trademap.</div>
</div></body></html>
